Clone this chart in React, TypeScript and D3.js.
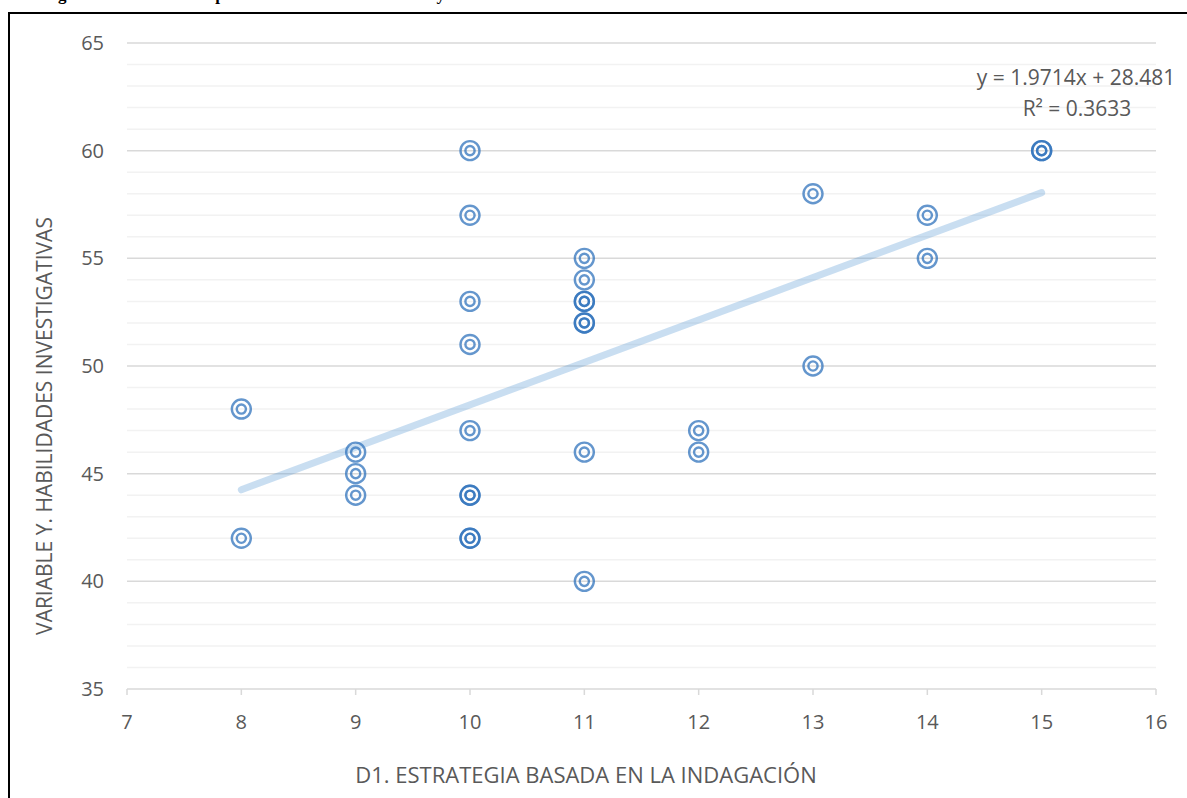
import React from "react";
import * as d3 from "d3";

// D1 score (x) and Variable Y score (y) per respondent
const xValues = [8, 8, 9, 9, 9, 10, 10, 10, 10, 10, 10, 10, 10, 10, 11, 11, 11, 11, 11, 11, 11, 11, 12, 12, 13, 13, 14, 14, 15, 15];
const yValues = [48, 42, 46, 45, 44, 60, 57, 53, 51, 47, 44, 44, 42, 42, 55, 54, 53, 53, 52, 52, 46, 40, 47, 46, 58, 50, 57, 55, 60, 60];
const xTicks = [7, 8, 9, 10, 11, 12, 13, 14, 15, 16];
const yTicks = [35, 40, 45, 50, 55, 60, 65];
const yMinorTicks = d3.range(35, 66, 1);
const trendSlope = 1.9714;
const trendIntercept = 28.481;
const trendRange = [8, 15];
const equationText = "y = 1.9714x + 28.481";
const r2Text = "R² = 0.3633";
const xTitle = "D1. ESTRATEGIA BASADA EN LA INDAGACIÓN";
const yTitle = "VARIABLE Y. HABILIDADES INVESTIGATIVAS";
const captionText = "Figura 3. Gráfico de dispersión entre la dimensión D1 y la variable";

const W = 1187;
const H = 798;
const FONT = "'Open Sans', sans-serif";
const TEXT = "#595959";

export default function App() {
  const x = d3.scaleLinear().domain([7, 16]).range([127, 1156]);
  const y = d3.scaleLinear().domain([35, 65]).range([689, 43]);
  const trend = d3
    .line<number>()
    .x((d) => x(d))
    .y((d) => y(trendSlope * d + trendIntercept));

  return (
    <svg
      width={W}
      height={H}
      style={{ position: "absolute", left: 0, top: 0, background: "#fff" }}
    >
      <text x={43} y={-0.5} fontFamily="'Liberation Serif', serif" fontWeight="bold" fontSize={17} fill="#000">
        {captionText}
      </text>
      <rect x={9} y={13} width={W + 20} height={H + 20} fill="#fff" stroke="#000" strokeWidth={2} />

      {/* minor gridlines */}
      {yMinorTicks
        .filter((t) => t % 5 !== 0)
        .map((t) => (
          <line key={"m" + t} x1={x(7)} x2={x(16)} y1={y(t)} y2={y(t)} stroke="#f2f2f2" strokeWidth={1.5} />
        ))}
      {/* major gridlines */}
      {yTicks.map((t) => (
        <line key={"g" + t} x1={x(7)} x2={x(16)} y1={y(t)} y2={y(t)} stroke="#d9d9d9" strokeWidth={1.5} />
      ))}
      {/* x ticks */}
      {xTicks.map((t) => (
        <line key={"t" + t} x1={x(t)} x2={x(t)} y1={y(35)} y2={y(35) + 6} stroke="#d9d9d9" strokeWidth={1.5} />
      ))}
      {/* y tick labels */}
      {yTicks.map((t) => (
        <text key={"yl" + t} x={104} y={y(t)} dy="0.35em" textAnchor="end" fontFamily={FONT} fontSize={20} fill={TEXT}>
          {t}
        </text>
      ))}
      {/* x tick labels */}
      {xTicks.map((t) => (
        <text key={"xl" + t} x={x(t)} y={729} textAnchor="middle" fontFamily={FONT} fontSize={20} fill={TEXT}>
          {t}
        </text>
      ))}

      {/* trendline */}
      <path
        d={trend(trendRange) || ""}
        fill="none"
        stroke="#5b9bd5"
        strokeOpacity={0.33}
        strokeWidth={7}
        strokeLinecap="round"
      />

      {/* points */}
      {xValues.map((xv, i) => (
        <g key={"p" + i} transform={`translate(${x(xv)},${y(yValues[i])})`}>
          <circle r={9.5} fill="none" stroke="#2e72bc" strokeOpacity={0.74} strokeWidth={2.4} />
          <circle r={4.6} fill="none" stroke="#2e72bc" strokeOpacity={0.74} strokeWidth={2.4} />
        </g>
      ))}

      {/* equation */}
      <text x={1076} y={85} textAnchor="middle" fontFamily={FONT} fontSize={21} fill={TEXT}>
        {equationText}
      </text>
      <text x={1077} y={116} textAnchor="middle" fontFamily={FONT} fontSize={21} fill={TEXT}>
        {r2Text}
      </text>

      {/* axis titles */}
      <text x={586} y={783} textAnchor="middle" fontFamily={FONT} fontSize={22} fill={TEXT}>
        {xTitle}
      </text>
      <text
        transform="translate(52,426) rotate(-90)"
        textAnchor="middle"
        fontFamily={FONT}
        fontSize={21}
        fill={TEXT}
      >
        {yTitle}
      </text>
    </svg>
  );
}
